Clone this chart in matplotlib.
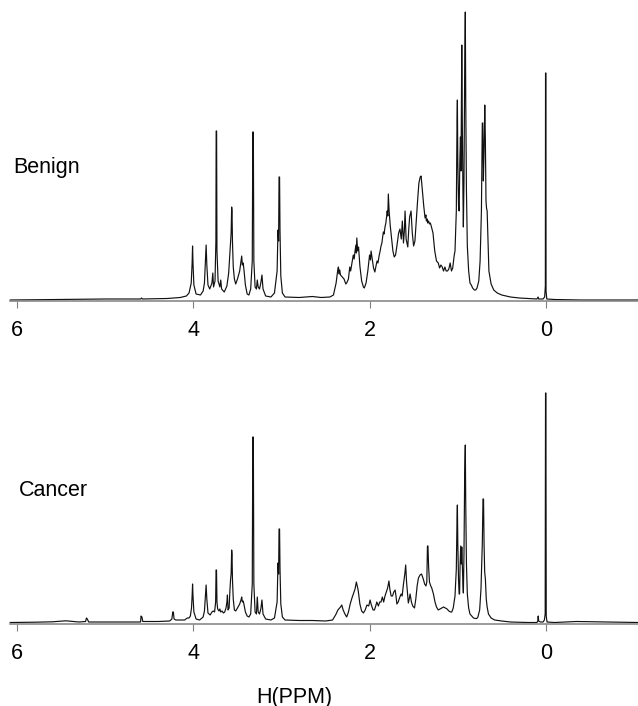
import matplotlib
matplotlib.use("Agg")

import matplotlib.pyplot as plt

plt.rcParams["font.family"] = ["Liberation Sans", "DejaVu Sans"]

# traced spectra: (chemical shift in ppm, intensity in arbitrary units)
benign = [
    (6.08, 1.0), (5.5, 1.5), (5.0, 2.0), (4.6, 2.0), (4.59, 3.0), (4.58, 2.0),
    (4.3, 2.5), (4.15, 3.5), (4.08, 5),
    (4.05, 8), (4.025, 18), (4.015, 38), (4.01, 55), (4.005, 38), (3.995, 16),
    (3.97, 7), (3.92, 6), (3.89, 10),
    (3.875, 18), (3.865, 38), (3.856, 56), (3.848, 36), (3.835, 16), (3.815, 12),
    (3.79, 18), (3.78, 28), (3.772, 14), (3.755, 20),
    (3.745, 60), (3.742, 170), (3.737, 170), (3.733, 50), (3.72, 20), (3.70, 14),
    (3.69, 21), (3.68, 12), (3.65, 9), (3.62, 15),
    (3.60, 28), (3.585, 50), (3.578, 60), (3.572, 68), (3.566, 94), (3.562, 90),
    (3.557, 60), (3.548, 34), (3.535, 22), (3.52, 17), (3.50, 22),
    (3.475, 30), (3.46, 40), (3.452, 45), (3.445, 36), (3.435, 38), (3.425, 30),
    (3.41, 16), (3.39, 7), (3.37, 6), (3.35, 12),
    (3.332, 40), (3.326, 169), (3.32, 169), (3.314, 40), (3.30, 14), (3.285, 12),
    (3.275, 21), (3.265, 14), (3.25, 12), (3.235, 18), (3.222, 26), (3.21, 12),
    (3.18, 5), (3.12, 4), (3.08, 8),
    (3.05, 30), (3.04, 71), (3.033, 60), (3.028, 124), (3.022, 124), (3.017, 70),
    (3.008, 25), (2.99, 8), (2.96, 4), (2.8, 3.5), (2.65, 4.5), (2.55, 3.5), (2.45, 4.0),
    (2.41, 6), (2.38, 18), (2.36, 32), (2.354, 34), (2.345, 27), (2.34, 31), (2.33, 26),
    (2.31, 24), (2.29, 22), (2.27, 17), (2.26, 18), (2.24, 22), (2.225, 34), (2.215, 30),
    (2.20, 38), (2.185, 46), (2.175, 42), (2.165, 50), (2.155, 56), (2.15, 48),
    (2.145, 63), (2.135, 50), (2.125, 54), (2.11, 35), (2.09, 20),
    (2.07, 14), (2.06, 13), (2.04, 18), (2.02, 30), (2.00, 46), (1.99, 41), (1.983, 50),
    (1.97, 42), (1.955, 33), (1.94, 29), (1.925, 36), (1.915, 40), (1.905, 38), (1.89, 46),
    (1.88, 50), (1.87, 55), (1.86, 58), (1.85, 65), (1.843, 69), (1.835, 67), (1.825, 74),
    (1.815, 78), (1.80, 90), (1.793, 85), (1.787, 107), (1.778, 90),
    (1.765, 75), (1.75, 62), (1.735, 50), (1.72, 44), (1.705, 46), (1.69, 55),
    (1.67, 68), (1.655, 72), (1.64, 62), (1.628, 80), (1.615, 58), (1.605, 70),
    (1.597, 90), (1.585, 62), (1.575, 58), (1.566, 54), (1.555, 72), (1.545, 84),
    (1.529, 90), (1.515, 68), (1.50, 55), (1.485, 60), (1.47, 80), (1.455, 100),
    (1.44, 118), (1.425, 124), (1.415, 125), (1.40, 110), (1.385, 95), (1.37, 83),
    (1.36, 86), (1.355, 80), (1.345, 82), (1.34, 78), (1.33, 80), (1.32, 77), (1.31, 78),
    (1.30, 75), (1.28, 68), (1.26, 50), (1.24, 40),
    (1.22, 38), (1.205, 33), (1.19, 36), (1.175, 34), (1.16, 30), (1.145, 34),
    (1.13, 30), (1.115, 30), (1.10, 32), (1.085, 38), (1.07, 30), (1.056, 33),
    (1.04, 45), (1.03, 50),
    (1.015, 90), (1.007, 180), (1.003, 201), (0.998, 140), (0.99, 95), (0.983, 90),
    (0.975, 140), (0.968, 164), (0.962, 130), (0.958, 180), (0.953, 256), (0.947, 180),
    (0.94, 110), (0.935, 74), (0.928, 120), (0.92, 230), (0.913, 289), (0.908, 200),
    (0.90, 110), (0.89, 55), (0.875, 30), (0.86, 18), (0.845, 16), (0.83, 13),
    (0.81, 11), (0.795, 11), (0.78, 13), (0.76, 20), (0.745, 40), (0.73, 90),
    (0.72, 178), (0.715, 178), (0.708, 120), (0.70, 150), (0.692, 196), (0.685, 160),
    (0.678, 100), (0.672, 93), (0.665, 90), (0.655, 60), (0.645, 30), (0.62, 17),
    (0.59, 11), (0.55, 8), (0.5, 6), (0.4, 4), (0.3, 3), (0.2, 2.5), (0.1, 2),
    (0.086, 4), (0.08, 2), (0.03, 2),
    (0.012, 4), (0.004, 15), (0.002, 228), (-0.002, 228), (-0.004, 10), (-0.012, 2),
    (-0.1, 1.5), (-0.4, 1), (-1.05, 1),
]

cancer = [
    (6.08, 1.5), (5.8, 1.8), (5.6, 2.2), (5.45, 3.2), (5.3, 2.0), (5.225, 2.5),
    (5.215, 6), (5.205, 5), (5.19, 2), (5.0, 2.0), (4.8, 2.0), (4.6, 2.0),
    (4.595, 8), (4.585, 7), (4.575, 2.5), (4.4, 2.5), (4.27, 3), (4.245, 5),
    (4.235, 12), (4.228, 12), (4.22, 5), (4.2, 4), (4.15, 4), (4.1, 4), (4.07, 6), (4.05, 6),
    (4.035, 8), (4.022, 16), (4.015, 28), (4.01, 40), (4.005, 28), (3.995, 12),
    (3.97, 5), (3.93, 4), (3.89, 7),
    (3.875, 13), (3.865, 27), (3.856, 39), (3.848, 25), (3.835, 11), (3.81, 9),
    (3.79, 12), (3.775, 13), (3.76, 12),
    (3.748, 22), (3.743, 54), (3.738, 54), (3.733, 22), (3.725, 15), (3.71, 13),
    (3.70, 15), (3.69, 12), (3.675, 13), (3.66, 11), (3.645, 12), (3.63, 16),
    (3.62, 22), (3.614, 29), (3.607, 14), (3.595, 16), (3.585, 35), (3.578, 45),
    (3.572, 50), (3.566, 74), (3.562, 70), (3.557, 45), (3.548, 25), (3.535, 14),
    (3.52, 13), (3.50, 16),
    (3.475, 20), (3.46, 24), (3.452, 27), (3.445, 22), (3.435, 23), (3.425, 19),
    (3.41, 12), (3.39, 8), (3.37, 7), (3.35, 10),
    (3.332, 40), (3.326, 187), (3.32, 187), (3.314, 40), (3.30, 12), (3.285, 10),
    (3.275, 27), (3.265, 12), (3.25, 10), (3.235, 15), (3.222, 24), (3.21, 10),
    (3.18, 5), (3.12, 4), (3.08, 6),
    (3.05, 22), (3.04, 61), (3.033, 50), (3.028, 95), (3.022, 95), (3.017, 55),
    (3.008, 20), (2.99, 7), (2.96, 4), (2.8, 3.5), (2.65, 3.5), (2.5, 3),
    (2.42, 4), (2.40, 7), (2.38, 10), (2.36, 14), (2.34, 16), (2.33, 17), (2.316, 19),
    (2.30, 14), (2.28, 10), (2.26, 7), (2.24, 12), (2.22, 20), (2.20, 26), (2.18, 31),
    (2.165, 35), (2.15, 42), (2.14, 38), (2.13, 34), (2.11, 20), (2.09, 13),
    (2.07, 11), (2.05, 14), (2.03, 19), (2.01, 18), (1.994, 24), (1.98, 19),
    (1.96, 14), (1.945, 14), (1.93, 18), (1.918, 22), (1.90, 18), (1.885, 22),
    (1.87, 22), (1.855, 27), (1.84, 22), (1.825, 28), (1.81, 32), (1.795, 36),
    (1.78, 43), (1.77, 35), (1.755, 28), (1.74, 28), (1.725, 32), (1.71, 34),
    (1.70, 28), (1.69, 20), (1.675, 22), (1.66, 26), (1.642, 30), (1.63, 28),
    (1.615, 40), (1.60, 50), (1.59, 59), (1.58, 42), (1.56, 21), (1.55, 25),
    (1.54, 30), (1.525, 22), (1.51, 18), (1.49, 16), (1.475, 25), (1.46, 38),
    (1.445, 46), (1.427, 49), (1.41, 50), (1.39, 45), (1.375, 40), (1.36, 38),
    (1.35, 42), (1.343, 78), (1.337, 78), (1.33, 58), (1.32, 42), (1.305, 38),
    (1.294, 36), (1.275, 30), (1.257, 22), (1.24, 17), (1.22, 14), (1.20, 15),
    (1.18, 16), (1.16, 17), (1.14, 16), (1.12, 15), (1.10, 13), (1.08, 12),
    (1.067, 12), (1.05, 16), (1.04, 22), (1.03, 28),
    (1.015, 55), (1.007, 105), (1.003, 119), (0.998, 80), (0.99, 45), (0.983, 30),
    (0.978, 30), (0.972, 60), (0.965, 78), (0.958, 60), (0.953, 77), (0.947, 60),
    (0.94, 40), (0.935, 31), (0.928, 70), (0.92, 150), (0.913, 179), (0.908, 120),
    (0.90, 60), (0.89, 30), (0.875, 16), (0.86, 10), (0.84, 8), (0.82, 6),
    (0.80, 5.5), (0.783, 5.5), (0.77, 7), (0.75, 14), (0.735, 35), (0.72, 80),
    (0.712, 125), (0.706, 125), (0.70, 80), (0.693, 52), (0.685, 45), (0.675, 25),
    (0.665, 17), (0.65, 10), (0.62, 6), (0.58, 4), (0.5, 3), (0.4, 2), (0.2, 1.5),
    (0.1, 1.5), (0.09, 3), (0.085, 8), (0.08, 3), (0.06, 2), (0.03, 2),
    (0.015, 4), (0.006, 10), (0.002, 231), (-0.002, 231), (-0.006, 8), (-0.015, 2),
    (-0.1, 1.5), (-0.35, 2.5), (-1.05, 1.5),
]

tick_ppm = [6, 4, 2, 0]
tick_labels = ["6", "4", "2", "0"]
sample_names = ["Benign", "Cancer"]

W, H = 638, 706
fig = plt.figure(figsize=(W / 100, H / 100), dpi=100)

# panel layout in pixels: (axis line y, top y)
panels = [(301, 0), (624, 370)]
label_pos = [(13, 167), (19, 491)]
spectra = [benign, cancer]

for (base_y, top_y), spec, name, (lx, ly) in zip(panels, spectra, sample_names, label_pos):
    ax = fig.add_axes([10 / W, 1 - base_y / H, 628 / W, (base_y - top_y) / H])
    x = [p[0] for p in spec]
    y = [p[1] for p in spec]
    ax.plot(x, y, color="#111111", lw=0.85, clip_on=False)
    ax.set_xlim(6.083, -1.048)
    ax.set_ylim(0, base_y - top_y)
    for s in ["top", "left", "right"]:
        ax.spines[s].set_visible(False)
    ax.spines["bottom"].set_color("#808080")
    ax.spines["bottom"].set_linewidth(1.1)
    ax.set_yticks([])
    ax.set_xticks(tick_ppm)
    ax.set_xticklabels(tick_labels, fontsize=15.5)
    ax.tick_params(axis="x", length=5, width=0.8, color="#808080", pad=9)
    ax.patch.set_visible(False)
    fig.text(lx / W, 1 - ly / H, name, fontsize=15.5, ha="left", va="center")

fig.text(294 / W, 1 - 697 / H, "H(PPM)", fontsize=15.5, ha="center", va="center")

fig.savefig("out.png", dpi=100)
